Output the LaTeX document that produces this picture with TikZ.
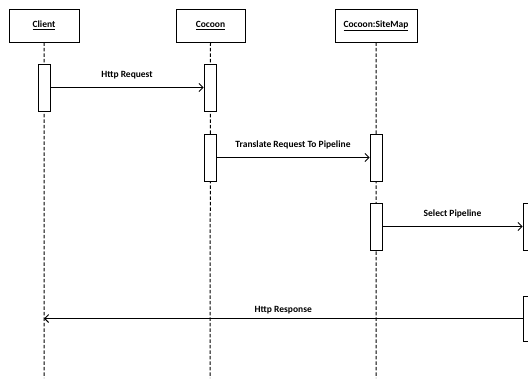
\documentclass[tikz,border=0pt]{standalone}
\usepackage{fontspec}
\setmainfont{Carlito}
\usetikzlibrary{arrows.meta}

\begin{document}
\begin{tikzpicture}[x=1pt,y=-1pt,line width=0.9pt,
    every node/.style={font=\fontsize{9.5}{11}\bfseries},
    head/.style={draw,fill=white,minimum height=33pt,inner sep=0},
    bar/.style={draw,fill=white,minimum width=12pt,minimum height=47pt,inner sep=0},
    life/.style={line width=1pt,dash pattern=on 3.5pt off 2pt},
    msg/.style={-{Straight Barb[length=4pt,width=8pt]}}]
        \useasboundingbox (0,0) rectangle (528,378);
        \clip (0,0) rectangle (528,378);
        \node[head,minimum width=70pt] (client) at (44,25.5) {\underline{Client}};
        \node[head,minimum width=69pt] (cocoon) at (210.5,25.5) {\underline{Cocoon}};
        \node[head,minimum width=82pt] (sitemap) at (376,25.5) {\underline{Cocoon:SiteMap}};
        \coordinate (clientend) at (44,378);
        \coordinate (cocoonend) at (210,378);
        \coordinate (sitemapend) at (376,378);
        \coordinate (pipeline) at (529,378);
        \coordinate (pipelinetop) at (529,0);
        \draw[life] (client) -- (clientend) (cocoon.south) -- (cocoonend) (sitemap) -- (sitemapend) (pipelinetop) -- (pipeline);
        \node[bar] (b1) at (44,87.5) {};
        \node[bar] (b2) at (210,87.5) {};
        \node[bar] (b3) at (210,157.5) {};
        \node[bar] (b4) at (376,157.5) {};
        \node[bar] (b5) at (376,226.5) {};
        \node[bar] (b6) at (529,226.5) {};
        \node[bar,minimum height=45pt] (b7) at (529,318.5) {};
        \coordinate (resp) at (44,318.5);
        \draw[msg] (b1) -- node[above,yshift=5pt] {Http Request} (b2);
        \draw[msg] (b3) -- node[above,yshift=5pt] {Translate Request To Pipeline} (b4);
        \draw[msg] (b5) -- node[above,yshift=5pt] {Select Pipeline} (b6);
        \draw[msg] (b7) -- node[above,yshift=1pt] {Http Response} (resp);
      \end{tikzpicture}
\end{document}
